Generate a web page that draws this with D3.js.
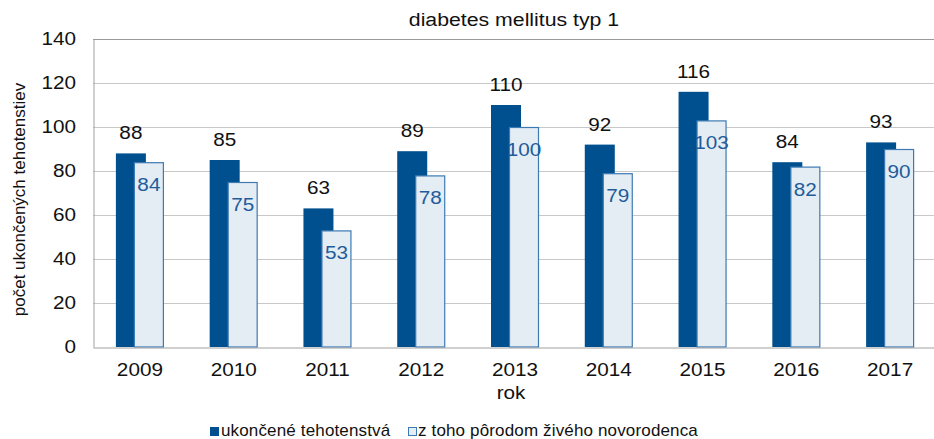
<!DOCTYPE html>
<html><head><meta charset="utf-8">
<script src="https://cdn.jsdelivr.net/npm/d3@7"></script>
<style>body{margin:0;background:#fff}svg{display:block}text{font-family:"Liberation Sans",Arial,sans-serif}</style>
</head><body><svg id="c" width="934" height="439"></svg>
<script>
const years = ["2009","2010","2011","2012","2013","2014","2015","2016","2017"];
const ukoncene = [88,85,63,89,110,92,116,84,93];
const zToho = [84,75,53,78,100,79,103,82,90];
const yTicks = [0,20,40,60,80,100,120,140];
const seriesNames = ["ukončené tehotenstvá","z toho pôrodom živého novorodenca"];
const title = "diabetes mellitus typ 1";
const xTitle = "rok";
const yTitle = "počet ukončených tehotenstiev";

const svg = d3.select("#c");
const L = 93, R = 937, T = 39, B = 347;
const x = d3.scaleBand().domain(years).range([L, R]);
const y = d3.scaleLinear().domain([0, 140]).range([B, T]);
const dark = "#00508f", lightFill = "#e4ecf4", lightStroke = "#3d7ab3", labBlue = "#1f5c9c";
const FS = 18.5, SX = 1.12;

// gridlines
svg.append("g").selectAll("line").data(yTicks.filter(d => d > 0)).join("line")
  .attr("x1", L).attr("x2", R).attr("y1", d => y(d) + 0.5).attr("y2", d => y(d) + 0.5)
  .attr("stroke", d => d === 140 ? "#9a9a9a" : "#c8c8c8").attr("stroke-width", 1);

// axes
const yAxis = svg.append("g").attr("transform", `translate(${L + 0.5},0)`)
  .call(d3.axisLeft(y).tickValues(yTicks).tickSize(0).tickPadding(17));
yAxis.select(".domain").attr("stroke", "#a0a0a0");
yAxis.selectAll("text").attr("font-size", FS).attr("fill", "#111")
  .attr("x", -17.5 / SX).attr("transform", `scale(${SX},1)`);

const bw = 30, off = 18;
const g = svg.append("g");
g.selectAll("rect.d").data(years).join("rect").attr("class", "d")
  .attr("x", d => x(d) + x.bandwidth()/2 - (bw + off)/2)
  .attr("y", (d, i) => y(ukoncene[i])).attr("width", bw)
  .attr("height", (d, i) => y(0) - y(ukoncene[i])).attr("fill", dark);
g.selectAll("rect.l").data(years).join("rect").attr("class", "l")
  .attr("x", d => x(d) + x.bandwidth()/2 - (bw + off)/2 + off + 0.5)
  .attr("y", (d, i) => y(zToho[i]) + 0.5).attr("width", bw - 1)
  .attr("height", (d, i) => y(0) - y(zToho[i]) - 0.5)
  .attr("fill", lightFill).attr("stroke", lightStroke).attr("stroke-width", 1.2);

g.selectAll("text.dl").data(years).join("text").attr("class", "dl")
  .attr("transform", (d, i) => `translate(${x(d) + x.bandwidth()/2 - (bw + off)/2 + bw/2},${y(ukoncene[i]) - 14}) scale(${SX},1)`)
  .attr("text-anchor", "middle").attr("font-size", FS).attr("fill", "#111")
  .text((d, i) => ukoncene[i]);
g.selectAll("text.ll").data(years).join("text").attr("class", "ll")
  .attr("transform", (d, i) => `translate(${x(d) + x.bandwidth()/2 - (bw + off)/2 + off + bw/2},${y(zToho[i]) + 29}) scale(${SX},1)`)
  .attr("text-anchor", "middle").attr("font-size", FS).attr("fill", labBlue)
  .text((d, i) => zToho[i]);

const xAxis = svg.append("g").attr("transform", `translate(0,${B + 0.5})`)
  .call(d3.axisBottom(x).tickSize(0).tickPadding(15));
xAxis.select(".domain").attr("stroke", "#a0a0a0");
xAxis.selectAll("text").attr("font-size", FS).attr("fill", "#111").attr("transform", `scale(${SX},1)`);

svg.append("text").attr("transform", `translate(514,26) scale(${SX},1)`).attr("text-anchor", "middle")
  .attr("font-size", 19).attr("fill", "#111").text(title);
svg.append("text").attr("transform", `translate(511,399) scale(${SX},1)`).attr("text-anchor", "middle")
  .attr("font-size", FS).attr("fill", "#111").text(xTitle);
svg.append("text").attr("transform", "translate(25,199.5) rotate(-90)").attr("text-anchor", "middle")
  .attr("font-size", 17).attr("fill", "#111").text(yTitle);

// legend
const lg = svg.append("g");
lg.append("rect").attr("x", 210).attr("y", 427).attr("width", 9).attr("height", 9).attr("fill", dark);
lg.append("text").attr("x", 221).attr("y", 435.5).attr("font-size", 17).attr("letter-spacing", 0.15).attr("fill", "#111").text(seriesNames[0]);
lg.append("rect").attr("x", 408.5).attr("y", 427.5).attr("width", 8).attr("height", 8)
  .attr("fill", lightFill).attr("stroke", lightStroke).attr("stroke-width", 1);
lg.append("text").attr("x", 418).attr("y", 435.5).attr("font-size", 17).attr("letter-spacing", 0.15).attr("fill", "#111").text(seriesNames[1]);
</script></body></html>
